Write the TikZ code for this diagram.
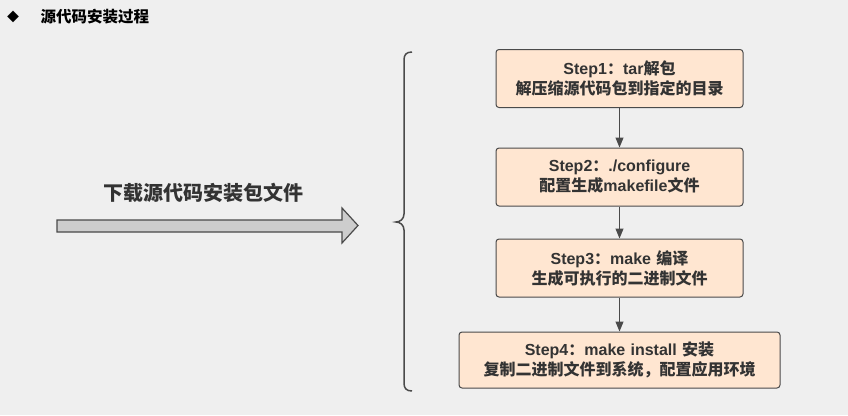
\documentclass[tikz,border=0pt]{standalone}
\usepackage{fontspec}
\setmainfont{Noto Sans CJK SC}
\newfontfamily\lat{Liberation Sans}[BoldFont={Liberation Sans Bold}]
\usetikzlibrary{arrows.meta}

\definecolor{bgcol}{HTML}{EFEFEF}
\definecolor{boxfill}{HTML}{FFE6D1}
\definecolor{boxline}{HTML}{4A4A4A}
\definecolor{txt}{HTML}{333333}
\definecolor{arrowfill}{HTML}{CDCDCD}

\newcommand\lt[1]{{\lat\bfseries #1}}

\begin{document}
\begin{tikzpicture}[
    x=1pt, y=-1pt,
    stepbox/.style={draw=boxline, fill=boxfill, rounded corners=3pt, line width=1pt,
        minimum height=58pt, inner xsep=0pt, align=center, text=txt,
        font=\fontsize{16}{20}\selectfont\bfseries},
    arrow/.style={-{Triangle[length=10pt,width=8pt]}, line width=1pt, draw=boxline},
    bigarrow/.style={draw=boxline, fill=arrowfill, line width=1.2pt},
    brace/.style={draw=boxline, line width=1.5pt}]

\useasboundingbox[fill=bgcol] (0,0) rectangle (848,415);

% Title
\node[text=black, font=\fontsize{12}{12}\selectfont] (dm) at (13,17) {◆};
\node[anchor=west, text=black, font=\fontsize{15.5}{16}\selectfont\bfseries] (tt) at (37,17) {源代码安装过程};

% Download arrow
\node[text=txt, font=\fontsize{20}{22}\selectfont\bfseries] (dl) at (203,193) {下载源代码安装包文件};
\draw[bigarrow] (57,220) -- (342,220) -- (342,208) -- (358,225.5) -- (342,243) -- (342,232) -- (57,232) -- cycle;

% Brace
\draw[brace] (412,52) .. controls (406,52) and (404,55) .. (404,60) -- (404,214)
    .. controls (404,219) and (400,222) .. (396,222)
    .. controls (400,222) and (404,225) .. (404,230) -- (404,383)
    .. controls (404,388) and (406,391) .. (412,391);

% Steps
\node[stepbox, text width=247pt] (s1) at (619.5,78.5) {\lt{Step1}：\lt{tar}解包\\解压缩源代码包到指定的目录};
\node[stepbox, text width=247pt] (s2) at (619.5,177) {\lt{Step2}：\lt{./configure}\\配置生成\lt{makefile}文件};
\node[stepbox, text width=247pt] (s3) at (619.5,268) {\lt{Step3}：\lt{make} 编译\\生成可执行的二进制文件};
\node[stepbox, text width=321pt, minimum height=56pt] (s4) at (619.5,360) {\lt{Step4}：\lt{make install} 安装\\复制二进制文件到系统，配置应用环境};

% Arrows between steps
\draw[arrow] (s1) -- (s2);
\draw[arrow] (s2) -- (s3);
\draw[arrow] (s3) -- (s4);

\end{tikzpicture}
\end{document}
